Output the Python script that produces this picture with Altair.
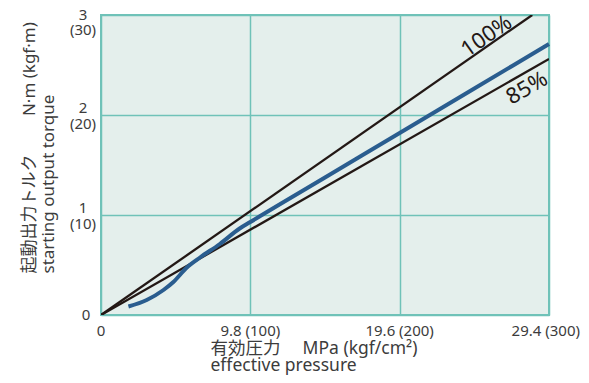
import altair as alt
import pandas as pd

# 100% line and 85% line (black)
line100_x = [0.0, 28.3]
line100_y = [0.0, 3.0]
line85_x = [0.0, 29.4]
line85_y = [0.0, 2.56]

# measured curve (blue)
curve_x = [1.8, 3.0, 4.1, 4.75, 5.6, 6.5, 7.8, 9.1, 9.8, 14.7, 19.6, 24.5, 29.4]
curve_y = [0.085, 0.15, 0.25, 0.33, 0.47, 0.575, 0.71, 0.865, 0.93, 1.375, 1.82, 2.265, 2.71]

label_text = ["100%", "85%"]
label_x = [25.3, 27.95]
label_y = [2.79, 2.27]
label_angle = [325, 330]

x_ticks = [0, 9.8, 19.6, 29.4]
x_tick_labels = ["0", "9.8 (100)", "19.6 (200)", "29.4 (300)"]
y_ticks = [0, 1, 2, 3]
y_tick_top = ["0", "1", "2", "3"]
y_tick_bottom = ["", "(10)", "(20)", "(30)"]

TEXT = "#3c3c3c"
GRID = "#6fc2b8"
FONT = "Noto Sans, Noto Sans CJK JP, sans-serif"

lines_df = pd.DataFrame({
    "x": line100_x + line85_x,
    "y": line100_y + line85_y,
    "s": ["100"] * 2 + ["85"] * 2,
})
curve_df = pd.DataFrame({"x": curve_x, "y": curve_y})
lab_df = pd.DataFrame({"t": label_text, "x": label_x, "y": label_y, "a": label_angle})
xt_df = pd.DataFrame({"x": x_ticks[:3], "t": x_tick_labels[:3]})
xt_last_df = pd.DataFrame({"x": x_ticks[3:], "t": x_tick_labels[3:]})
yt_top_df = pd.DataFrame({"y": y_ticks[1:3], "t": y_tick_top[1:3]})
yt_bot_df = pd.DataFrame({"y": y_ticks[1:3], "t": y_tick_bottom[1:3]})
yt_max_top_df = pd.DataFrame({"y": y_ticks[3:], "t": y_tick_top[3:]})
yt_max_bot_df = pd.DataFrame({"y": y_ticks[3:], "t": y_tick_bottom[3:]})
yt_zero_df = pd.DataFrame({"y": y_ticks[:1], "t": y_tick_top[:1]})

xscale = alt.Scale(domain=[0, 29.4], nice=False, zero=False)
yscale = alt.Scale(domain=[0, 3], nice=False, zero=False)

xaxis = alt.Axis(
    values=x_ticks, grid=True, gridColor=GRID, gridWidth=1.5,
    ticks=False, domain=False, labels=False,
    title=["有効圧力　 MPa (kgf/cm²)", "effective pressure"],
    titleFont=FONT, titleFontSize=17.5, titleFontWeight="normal", titleColor=TEXT,
    titleAnchor="start", titleAlign="left", titleX=109, titleY=38,
    titleBaseline="alphabetic", titleLineHeight=17,
)
yaxis = alt.Axis(
    values=y_ticks, grid=True, gridColor=GRID, gridWidth=1.5,
    ticks=False, domain=False, labels=False,
    title=["起動出力トルク　　 N·m (kgf·m)", "starting output torque"],
    titleFont=FONT, titleFontSize=17, titleFontWeight="normal", titleColor=TEXT,
    titleAngle=270, titleAlign="left", titleBaseline="alphabetic",
    titleX=-67, titleY=258, titleLineHeight=19,
)

base_lines = alt.Chart(lines_df).mark_line(color="#231815", strokeWidth=2.3, clip=True).encode(
    x=alt.X("x:Q", scale=xscale, axis=xaxis),
    y=alt.Y("y:Q", scale=yscale, axis=yaxis),
    detail="s:N",
)
curve = alt.Chart(curve_df).mark_line(color="#2a5d8f", strokeWidth=4, interpolate="monotone").encode(
    x=alt.X("x:Q", scale=xscale),
    y=alt.Y("y:Q", scale=yscale),
)
labels = alt.Chart(lab_df).mark_text(fontSize=22, font=FONT, color="#231815").encode(
    x=alt.X("x:Q", scale=xscale),
    y=alt.Y("y:Q", scale=yscale),
    text="t:N",
    angle=alt.Angle("a:Q", scale=None),
)
tick_style = dict(fontSize=15, font=FONT, color=TEXT, baseline="middle")


def xtext(df, **kw):
    return alt.Chart(df).mark_text(**tick_style, **kw).encode(
        x=alt.X("x:Q", scale=xscale), y=alt.value(316), text="t:N"
    )


def ytext(df, **kw):
    return alt.Chart(df).mark_text(align="center", **tick_style, **kw).encode(
        x=alt.value(-18), y=alt.Y("y:Q", scale=yscale), text="t:N"
    )


layers = [
    base_lines, curve, labels,
    xtext(xt_df, align="center"),
    xtext(xt_last_df, align="right", dx=31),
    ytext(yt_top_df, dy=-7),
    ytext(yt_bot_df, dy=9),
    ytext(yt_max_top_df, dy=0),
    ytext(yt_max_bot_df, dy=15),
    ytext(yt_zero_df, dx=3),
]

chart = alt.layer(*layers).properties(
    width=448, height=300,
    autosize=alt.AutoSizeParams(type="none"),
    padding={"left": 93, "top": 7, "right": 32, "bottom": 60},
    background="white",
).configure_view(
    fill="#e4efec", stroke=GRID, strokeWidth=2,
)

chart.save("out.html", embed_options={"renderer": "svg", "actions": False})
